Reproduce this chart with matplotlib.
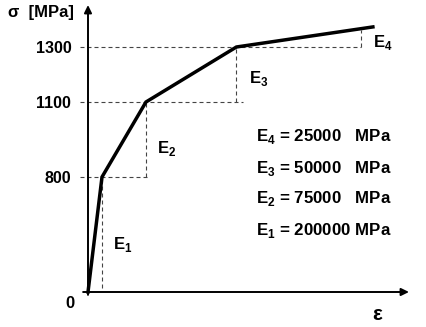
import numpy as np
import matplotlib
matplotlib.use("Agg")
import matplotlib.pyplot as plt

plt.rcParams['font.family'] = ['Liberation Sans', 'DejaVu Sans']
plt.rcParams['font.weight'] = 'bold'
plt.rcParams['mathtext.fontset'] = 'custom'
plt.rcParams['mathtext.rm'] = 'Liberation Sans'
plt.rcParams['mathtext.bf'] = 'Liberation Sans:bold'

# multilinear stress-strain curve (schematic, strain not to scale)
strain = [0.0, 1.0, 4.14, 10.6, 20.35]         # arbitrary units
stress = [0, 800, 1100, 1300, 1373]             # MPa
strain_e4 = 19.5                                 # where the E4 step is drawn
stress_e4 = 1362
stress_ticks = [800, 1100, 1300]
moduli = [200000, 75000, 50000, 25000]           # MPa

# the sketch's stress axis is not linear either: map stress -> height (px)
sig_knots = [-300, 0, 800, 1100, 1300, 1500]
h_knots = [-43.2, 0, 115, 190, 245, 300]


def fwd(s):
    return np.interp(s, sig_knots, h_knots)


def inv(h):
    return np.interp(h, h_knots, sig_knots)


W, H = 427, 327
fig = plt.figure(figsize=(W / 100, H / 100), dpi=100)
ax = fig.add_axes([88 / W, 35 / H, 321 / W, 287 / H])
ax.set_yscale('function', functions=(fwd, inv))
ax.set_xlim(0, 321 / 14)
ax.set_ylim(0, inv(287))
for sp in ax.spines.values():
    sp.set_visible(False)

ax.set_xticks([])
ax.set_yticks(stress_ticks)
ax.set_yticklabels([str(v) for v in stress_ticks], fontsize=11.5)
ax.tick_params(axis='y', length=0, pad=12)

# axes with arrows
arrow = dict(arrowstyle='-|>,head_length=0.45,head_width=0.22', lw=1.4,
             color='black', shrinkA=0, shrinkB=0)
ax.annotate('', xy=(0, 1), xycoords=('data', 'axes fraction'),
            xytext=(0, -20), textcoords=('data', 'data'), arrowprops=arrow,
            annotation_clip=False)
ax.annotate('', xy=(1, 0), xycoords=('axes fraction', 'data'),
            xytext=(-0.35, 0), textcoords=('data', 'data'), arrowprops=arrow,
            annotation_clip=False)

# dashed construction lines
dash = dict(color='#444444', lw=0.8, dashes=(3.6, 2.7), clip_on=False)
h_ends = [strain[2] + 0.3, strain[3] + 0.5, strain_e4]
for lev, end in zip(stress[1:4], h_ends):
    ax.plot([-0.55, end], [lev, lev], **dash)
v_x = [strain[1], strain[2], strain[3], strain_e4]
v_lo = [30, stress[1], stress[2], stress[3]]
v_hi = [stress[1], stress[2], stress[3], stress_e4]
for x, lo, hi in zip(v_x, v_lo, v_hi):
    ax.plot([x, x], [lo, hi], **dash)

# curve
ax.plot(strain, stress, color='black', lw=2.5, clip_on=False,
        solid_joinstyle='miter')

# E labels next to each step
offs = [(11, 47), (11, 29), (13, 24), (12, 4)]
for i, (dx, dy) in enumerate(offs):
    ax.annotate(r'$\mathbf{E}_{\mathrm{%d}}$' % (i + 1),
                xy=(v_x[i], v_lo[i] if i else 0), xytext=(dx, dy),
                textcoords='offset pixels', ha='left', va='center',
                fontsize=12, annotation_clip=False)

# moduli list
gaps = ['   ', '   ', '   ', ' ']
for k, i in enumerate([3, 2, 1, 0]):
    ax.annotate(r'$\mathbf{E}_{\mathrm{%d}}$ = %d%sMPa' % (i + 1, moduli[i], gaps[k]),
                xy=(0, 0), xytext=(256 - 88, -(137 + 31 * k - 292)),
                textcoords='offset pixels', ha='left', va='center',
                fontsize=12.2, annotation_clip=False)

ax.annotate('0', xy=(0, 0), xytext=(-18, -11), textcoords='offset pixels',
            ha='center', va='center', fontsize=12, annotation_clip=False)
ax.annotate('σ  [MPa]', xy=(0, 1), xycoords=('data', 'axes fraction'),
            xytext=(-80, -8), textcoords='offset pixels', ha='left',
            va='center', fontsize=12, annotation_clip=False)
ax.annotate('ε', xy=(0, 0), xytext=(289, -23), textcoords='offset pixels',
            ha='center', va='center', fontsize=15, annotation_clip=False)

fig.savefig('out.png', dpi=100)
